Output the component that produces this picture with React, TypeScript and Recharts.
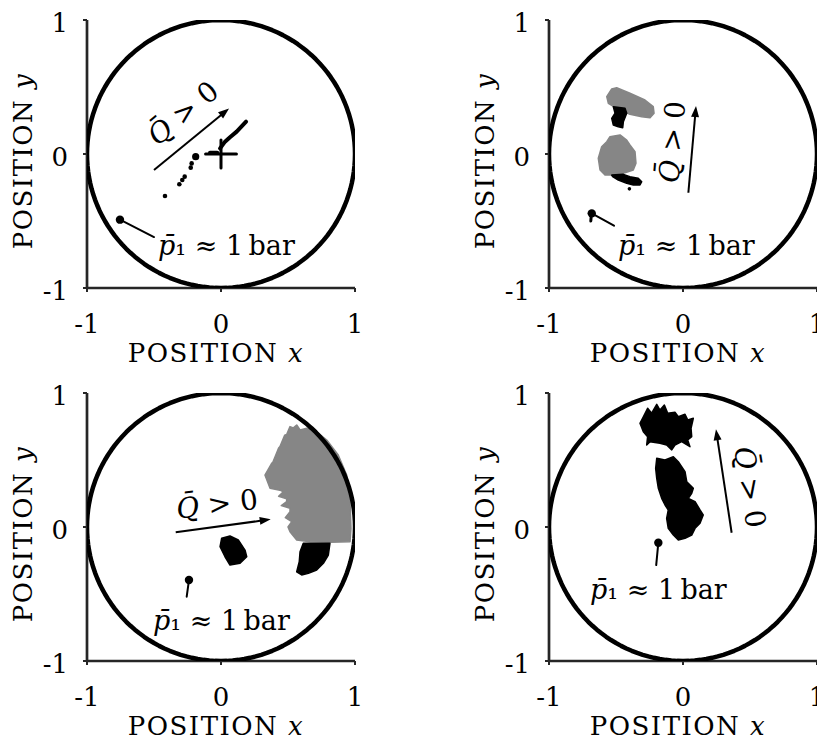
import React from "react";
import { ScatterChart, Scatter, XAxis, YAxis, Label } from "recharts";

const AXIS_TICKS = [-1, 0, 1];
const FONT = "'DejaVu Serif', serif";
const INK = "#000";
const AXIS_INK = "#262626";
const GREY = "#868686";

type Pt = { x: number; y: number };
const toPts = (rows: number[][]): Pt[] => rows.map(([x, y]) => ({ x, y }));

// chamber wall (unit circle), sampled every 2.5 degrees
const wallAngles = Array.from({ length: 145 }, (_, i) => i * 2.5);
const wall: Pt[] = wallAngles.map((a) => ({
  x: Math.cos((a * Math.PI) / 180),
  y: Math.sin((a * Math.PI) / 180),
}));

// --- top left ---
const aTrailDots = [[-0.418, -0.313], [-0.311, -0.226], [-0.289, -0.194], [-0.271, -0.169], [-0.226, -0.102], [-0.219, -0.07]];
const aTrailEnd = [[-0.189, -0.02]];
const aStreak = [[-0.082, 0.01], [-0.028, 0.01]];
const aChain = [[-0.007, 0.042], [0.03, 0.092], [0.067, 0.125], [0.117, 0.167], [0.187, 0.241]];
const aCrossH = [[-0.115, 0], [0.115, 0]];
const aCrossV = [[0, -0.105], [0, 0.105]];
const aStart = [[-0.754, -0.49]];
const aLeader = [[-0.754, -0.49], [-0.5, -0.62]];
const aArrow = [[-0.5, -0.12], [0.06, 0.34]];
const aQLabel = [[-0.284, 0.306]];
const aPLabel = [[-0.47, -0.754]];

// --- top right ---
const bGreyUpper = [[-0.569, 0.428], [-0.532, 0.485], [-0.495, 0.495], [-0.396, 0.453], [-0.284, 0.403], [-0.222, 0.353], [-0.216, 0.304], [-0.246, 0.271], [-0.308, 0.278], [-0.396, 0.296], [-0.495, 0.341], [-0.557, 0.378]];
const bBlackUpper = [[-0.52, 0.353], [-0.433, 0.341], [-0.42, 0.304], [-0.445, 0.241], [-0.45, 0.196], [-0.483, 0.204], [-0.52, 0.216], [-0.532, 0.266], [-0.507, 0.304]];
const bGreyLower = [[-0.545, 0.129], [-0.47, 0.142], [-0.42, 0.104], [-0.396, 0.067], [-0.358, 0.017], [-0.351, -0.069], [-0.371, -0.119], [-0.445, -0.144], [-0.52, -0.157], [-0.582, -0.157], [-0.619, -0.119], [-0.632, -0.032], [-0.607, 0.054], [-0.569, 0.092]];
const bBlackLower = [[-0.532, -0.157], [-0.445, -0.152], [-0.396, -0.169], [-0.334, -0.181], [-0.308, -0.207], [-0.321, -0.231], [-0.371, -0.231], [-0.42, -0.219], [-0.483, -0.194], [-0.525, -0.169]];
const bSpeck = [[-0.4, -0.26]];
const bStart = [[-0.681, -0.443]];
const bStartTail = [[-0.684, -0.45], [-0.688, -0.5]];
const bLeader = [[-0.681, -0.443], [-0.515, -0.535]];
const bArrow = [[0.04, -0.289], [0.097, 0.358]];
const bQLabel = [[-0.082, 0.09]];
const bPLabel = [[-0.485, -0.754]];

// --- bottom left ---
const cGrey = [[0.565, 0.761], [0.54, 0.74], [0.515, 0.749], [0.49, 0.69], [0.475, 0.685], [0.44, 0.6], [0.43, 0.59], [0.39, 0.49], [0.375, 0.47], [0.328, 0.388], [0.366, 0.289], [0.44, 0.275], [0.465, 0.263], [0.43, 0.23], [0.49, 0.21], [0.49, 0.189], [0.45, 0.16], [0.515, 0.14], [0.515, 0.114], [0.48, 0.07], [0.528, 0.04], [0.5, 0.0], [0.515, -0.035], [0.565, -0.097], [0.664, -0.11], [0.813, -0.114], [0.963, -0.11], [0.97, -0.01], [0.963, 0.189], [0.938, 0.388], [0.875, 0.537], [0.789, 0.649], [0.714, 0.711], [0.64, 0.737], [0.59, 0.724]];
const cBlackRim = [[0.614, -0.122], [0.813, -0.122], [0.801, -0.209], [0.764, -0.271], [0.714, -0.321], [0.652, -0.346], [0.602, -0.358], [0.565, -0.334], [0.584, -0.259], [0.59, -0.184]];
const cBlackCore = [[0.005, -0.084], [0.067, -0.067], [0.129, -0.097], [0.179, -0.172], [0.192, -0.222], [0.142, -0.271], [0.067, -0.284], [0.03, -0.222], [-0.007, -0.147]];
const cStart = [[-0.239, -0.396]];
const cLeader = [[-0.239, -0.396], [-0.256, -0.52]];
const cArrow = [[-0.338, -0.04], [0.371, 0.057]];
const cQLabel = [[-0.03, 0.172]];
const cPLabel = [[-0.507, -0.769]];

// --- bottom right ---
const dBlackUpper = [[-0.296, 0.823], [-0.264, 0.886], [-0.234, 0.849], [-0.196, 0.915], [-0.172, 0.873], [-0.139, 0.91], [-0.114, 0.849], [-0.06, 0.856], [-0.035, 0.823], [0.015, 0.841], [0.035, 0.799], [0.077, 0.811], [0.06, 0.737], [0.065, 0.674], [0.035, 0.649], [0.052, 0.599], [-0.01, 0.637], [-0.06, 0.612], [-0.084, 0.575], [-0.122, 0.612], [-0.172, 0.625], [-0.246, 0.637], [-0.271, 0.612], [-0.264, 0.674], [-0.296, 0.711], [-0.321, 0.774]];
const dBlackLower = [[-0.196, 0.513], [-0.134, 0.5], [-0.072, 0.525], [-0.035, 0.487], [0.015, 0.413], [0.028, 0.338], [0.077, 0.289], [0.065, 0.251], [0.04, 0.214], [0.09, 0.189], [0.127, 0.127], [0.151, 0.09], [0.127, 0.028], [0.09, -0.01], [0.065, -0.06], [0.015, -0.084], [-0.035, -0.097], [-0.072, -0.06], [-0.11, -0.01], [-0.122, 0.065], [-0.11, 0.127], [-0.134, 0.164], [-0.159, 0.214], [-0.184, 0.289], [-0.196, 0.363], [-0.204, 0.437]];
const dStart = [[-0.184, -0.117]];
const dLeader = [[-0.184, -0.117], [-0.2, -0.284]];
const dArrow = [[0.363, -0.043], [0.246, 0.729]];
const dQLabel = [[0.5, 0.299]];
const dPLabel = [[-0.694, -0.537]];

const pathOf = (points: Pt[], close = false) =>
  points.map((p, i) => `${i ? "L" : "M"}${p.x},${p.y}`).join("") + (close ? "Z" : "");

const Hidden = () => null;

const filledOutline = (fill: string) => (props: any) => (
  <path d={pathOf(props.points, true)} fill={fill} stroke={fill} strokeWidth={1.5} strokeLinejoin="round" />
);

const stroked = (width: number) => (props: any) => (
  <path d={pathOf(props.points)} fill="none" stroke={INK} strokeWidth={width} strokeLinecap="round" strokeLinejoin="round" />
);

const arrowLine = (props: any) => {
  const [a, b] = props.points;
  const dx = b.x - a.x;
  const dy = b.y - a.y;
  const len = Math.hypot(dx, dy);
  const ux = dx / len;
  const uy = dy / len;
  const bx = b.x - ux * 11;
  const by = b.y - uy * 11;
  return (
    <g>
      <line x1={a.x} y1={a.y} x2={bx + ux * 2} y2={by + uy * 2} stroke={INK} strokeWidth={2} />
      <path d={`M${b.x},${b.y}L${bx - uy * 4},${by + ux * 4}L${bx + uy * 4},${by - ux * 4}Z`} fill={INK} />
    </g>
  );
};

const dot = (r: number) => (props: any) => <circle cx={props.cx} cy={props.cy} r={r} fill={INK} />;

const qLabel = (angle: number) => (props: any) => (
  <text
    x={props.cx}
    y={props.cy}
    dy="0.35em"
    textAnchor="middle"
    transform={`rotate(${angle} ${props.cx} ${props.cy})`}
    fontFamily={FONT}
    fontSize={28}
    fill={INK}
  >
    <tspan fontStyle="italic">{"Q\u0304"}</tspan>
    <tspan>{" > 0"}</tspan>
  </text>
);

const pLabel = (props: any) => (
  <text x={props.cx} y={props.cy} fontFamily={FONT} fontSize={27} fill={INK}>
    <tspan fontStyle="italic">{"p\u0304"}</tspan>
    <tspan>{"\u2081 \u2248 1\u2009bar"}</tspan>
  </text>
);

const XTick = (props: any) => (
  <text x={props.x} y={props.y + 41} textAnchor="middle" fontFamily={FONT} fontSize={26} fill={INK}>
    {props.payload.value}
  </text>
);

const YTick = (props: any) => (
  <text x={props.x - 15} y={props.y + 12} textAnchor="end" fontFamily={FONT} fontSize={26} fill={INK}>
    {props.payload.value}
  </text>
);

const XTitle = (props: any) => {
  const vb = props.viewBox;
  return (
    <text x={vb.x + vb.width / 2 - 5} y={vb.y + 74} textAnchor="middle" fontFamily={FONT} fontSize={26} letterSpacing={1.5} fill={INK}>
      POSITION <tspan fontStyle="italic">x</tspan>
    </text>
  );
};

const YTitle = (props: any) => {
  const vb = props.viewBox;
  const x = vb.x + 15;
  const y = vb.y + vb.height / 2 + 7;
  return (
    <text x={x} y={y} textAnchor="middle" transform={`rotate(-90 ${x} ${y})`} fontFamily={FONT} fontSize={26} letterSpacing={1.5} fill={INK}>
      POSITION <tspan fontStyle="italic">y</tspan>
    </text>
  );
};

const Blob = ({ rows, fill }: { rows: number[][]; fill: string }) => (
  <Scatter data={toPts(rows)} shape={Hidden} line={filledOutline(fill)} lineType="joint" isAnimationActive={false} />
);

const Stroke = ({ rows, width }: { rows: number[][]; width: number }) => (
  <Scatter data={toPts(rows)} shape={Hidden} line={stroked(width)} lineType="joint" isAnimationActive={false} />
);

const Arrow = ({ rows }: { rows: number[][] }) => (
  <Scatter data={toPts(rows)} shape={Hidden} line={arrowLine} lineType="joint" isAnimationActive={false} />
);

const Dots = ({ rows, r }: { rows: number[][]; r: number }) => (
  <Scatter data={toPts(rows)} shape={dot(r)} isAnimationActive={false} />
);

const Wall = () => (
  <Scatter data={wall} shape={Hidden} line={stroked(4.5)} lineType="joint" isAnimationActive={false} />
);

const Panel = ({ left, top, children }: { left: number; top: number; children: React.ReactNode }) => (
  <div style={{ position: "absolute", left, top }}>
    <ScatterChart width={410} height={370} margin={{ top: 20, right: 55, bottom: 12, left: 17 }}>
      <XAxis
        type="number"
        dataKey="x"
        domain={[-1, 1]}
        ticks={AXIS_TICKS}
        interval={0}
        allowDataOverflow
        height={70}
        tickSize={4}
        tickMargin={0}
        axisLine={{ stroke: AXIS_INK, strokeWidth: 2.7 }}
        tickLine={{ stroke: AXIS_INK, strokeWidth: 2 }}
        tick={<XTick />}
      >
        <Label content={<XTitle />} />
      </XAxis>
      <YAxis
        type="number"
        dataKey="y"
        domain={[-1, 1]}
        ticks={AXIS_TICKS}
        interval={0}
        allowDataOverflow
        width={70}
        tickSize={4}
        tickMargin={0}
        axisLine={{ stroke: AXIS_INK, strokeWidth: 2.7 }}
        tickLine={{ stroke: AXIS_INK, strokeWidth: 2 }}
        tick={<YTick />}
      >
        <Label content={<YTitle />} />
      </YAxis>
      {children}
    </ScatterChart>
  </div>
);

export default function App() {
  return (
    <div style={{ position: "absolute", left: 0, top: 0, width: 817, height: 740, overflow: "hidden", background: "#fff" }}>
      <Panel left={0} top={0}>
        <Dots rows={aTrailDots} r={2.3} />
        <Dots rows={aTrailEnd} r={3.6} />
        <Stroke rows={aStreak} width={4} />
        <Stroke rows={aChain} width={4} />
        <Stroke rows={aCrossH} width={3} />
        <Stroke rows={aCrossV} width={3} />
        <Stroke rows={aLeader} width={2} />
        <Dots rows={aStart} r={4.2} />
        <Arrow rows={aArrow} />
        <Scatter data={toPts(aQLabel)} shape={qLabel(-39.6)} isAnimationActive={false} />
        <Scatter data={toPts(aPLabel)} shape={pLabel} isAnimationActive={false} />
        <Wall />
      </Panel>

      <Panel left={462} top={0}>
        <Blob rows={bGreyUpper} fill={GREY} />
        <Blob rows={bBlackUpper} fill={INK} />
        <Blob rows={bGreyLower} fill={GREY} />
        <Blob rows={bBlackLower} fill={INK} />
        <Dots rows={bSpeck} r={1.8} />
        <Stroke rows={bLeader} width={2} />
        <Stroke rows={bStartTail} width={3} />
        <Dots rows={bStart} r={4.2} />
        <Arrow rows={bArrow} />
        <Scatter data={toPts(bQLabel)} shape={qLabel(-85)} isAnimationActive={false} />
        <Scatter data={toPts(bPLabel)} shape={pLabel} isAnimationActive={false} />
        <Wall />
      </Panel>

      <Panel left={0} top={373}>
        <Blob rows={cGrey} fill={GREY} />
        <Blob rows={cBlackRim} fill={INK} />
        <Blob rows={cBlackCore} fill={INK} />
        <Stroke rows={cLeader} width={2} />
        <Dots rows={cStart} r={4.2} />
        <Arrow rows={cArrow} />
        <Scatter data={toPts(cQLabel)} shape={qLabel(-7)} isAnimationActive={false} />
        <Scatter data={toPts(cPLabel)} shape={pLabel} isAnimationActive={false} />
        <Wall />
      </Panel>

      <Panel left={462} top={373}>
        <Blob rows={dBlackUpper} fill={INK} />
        <Blob rows={dBlackLower} fill={INK} />
        <Stroke rows={dLeader} width={2} />
        <Dots rows={dStart} r={4.2} />
        <Arrow rows={dArrow} />
        <Scatter data={toPts(dQLabel)} shape={qLabel(81)} isAnimationActive={false} />
        <Scatter data={toPts(dPLabel)} shape={pLabel} isAnimationActive={false} />
        <Wall />
      </Panel>
    </div>
  );
}
